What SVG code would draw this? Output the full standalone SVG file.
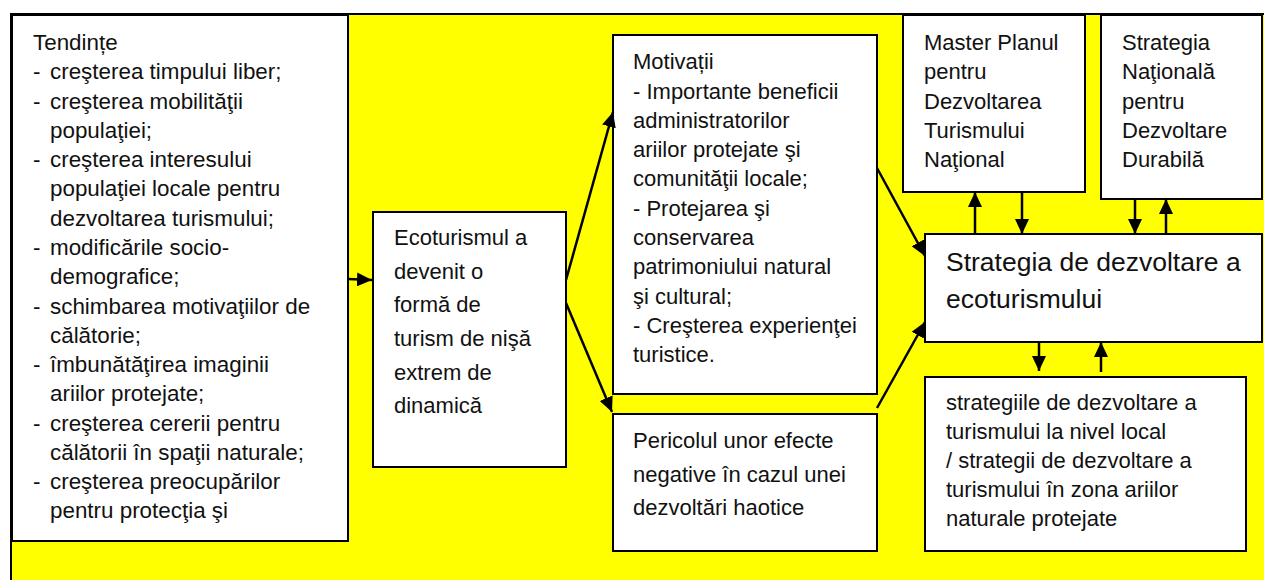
<svg xmlns="http://www.w3.org/2000/svg" width="1264" height="580" viewBox="0 0 1264 580">
<style>
.bx{fill:#ffffff;stroke:#000000;stroke-width:2}
.t{font-family:"Liberation Sans",Arial,sans-serif;font-size:22px;fill:#111111}
.tl{font-family:"Liberation Sans",Arial,sans-serif;font-size:22.4px;fill:#111111}
.tb{font-family:"Liberation Sans",Arial,sans-serif;font-size:26.5px;fill:#111111}
.c{stroke:#000000;stroke-width:2.5;fill:none;marker-end:url(#ah)}
</style>
<defs>
<marker id="ah" markerUnits="userSpaceOnUse" markerWidth="15" markerHeight="14" refX="15" refY="7" orient="auto">
<path d="M0,0 L15,7 L0,14 z" fill="#000000"/>
</marker>
</defs>
<rect x="11" y="14" width="1270" height="580" fill="#ffff00" stroke="#000000" stroke-width="2"/>

<g id="tendinte">
<rect class="bx" x="12" y="15" width="336" height="526"/>
<text class="tl" x="33" y="50">Tendințe</text>
<text class="tl"><tspan x="33" y="79">-</tspan><tspan x="50" y="79">creşterea timpului liber;</tspan></text>
<text class="tl"><tspan x="33" y="108.5">-</tspan><tspan x="50" y="108.5">creşterea mobilităţii</tspan></text>
<text class="tl" x="50" y="138">populaţiei;</text>
<text class="tl"><tspan x="33" y="167">-</tspan><tspan x="50" y="167">creşterea interesului</tspan></text>
<text class="tl" x="50" y="196">populaţiei locale pentru</text>
<text class="tl" x="50" y="225.5">dezvoltarea turismului;</text>
<text class="tl"><tspan x="33" y="255">-</tspan><tspan x="50" y="255">modificările socio-</tspan></text>
<text class="tl" x="50" y="284">demografice;</text>
<text class="tl"><tspan x="33" y="313.5">-</tspan><tspan x="50" y="313.5">schimbarea motivaţiilor de</tspan></text>
<text class="tl" x="50" y="343">călătorie;</text>
<text class="tl"><tspan x="33" y="372">-</tspan><tspan x="50" y="372">îmbunătăţirea imaginii</tspan></text>
<text class="tl" x="50" y="401">ariilor protejate;</text>
<text class="tl"><tspan x="33" y="430.5">-</tspan><tspan x="50" y="430.5">creşterea cererii pentru</tspan></text>
<text class="tl" x="50" y="460">călătorii în spaţii naturale;</text>
<text class="tl"><tspan x="33" y="489">-</tspan><tspan x="50" y="489">creşterea preocupărilor</tspan></text>
<text class="tl" x="50" y="518">pentru protecţia şi</text>
</g>

<g id="ecoturism">
<rect class="bx" x="373" y="212" width="193" height="255"/>
<text class="t" x="394" y="245">Ecoturismul a</text>
<text class="t" x="394" y="278.5">devenit o</text>
<text class="t" x="394" y="312">formă de</text>
<text class="t" x="394" y="346">turism de nişă</text>
<text class="t" x="394" y="380">extrem de</text>
<text class="t" x="394" y="413">dinamică</text>
</g>

<g id="motivatii">
<rect class="bx" x="613" y="35" width="264" height="359"/>
<text class="t" x="633" y="69">Motivații</text>
<text class="t" x="633" y="98.5">- Importante beneficii</text>
<text class="t" x="633" y="128">administratorilor</text>
<text class="t" x="633" y="157">ariilor protejate şi</text>
<text class="t" x="633" y="186">comunităţii locale;</text>
<text class="t" x="633" y="215.5">- Protejarea şi</text>
<text class="t" x="633" y="245">conservarea</text>
<text class="t" x="633" y="274">patrimoniului natural</text>
<text class="t" x="633" y="303.5">şi cultural;</text>
<text class="t" x="633" y="333">- Creşterea experienţei</text>
<text class="t" x="633" y="362">turistice.</text>
</g>

<g id="pericolul">
<rect class="bx" x="613" y="414" width="264" height="137"/>
<text class="t" x="633" y="448">Pericolul unor efecte</text>
<text class="t" x="633" y="482">negative în cazul unei</text>
<text class="t" x="633" y="515">dezvoltări haotice</text>
</g>

<g id="masterplan">
<rect class="bx" x="903" y="15" width="182" height="177"/>
<text class="t" x="924" y="50">Master Planul</text>
<text class="t" x="924" y="79">pentru</text>
<text class="t" x="924" y="108.5">Dezvoltarea</text>
<text class="t" x="924" y="138">Turismului</text>
<text class="t" x="924" y="167">Naţional</text>
</g>

<g id="strategia-nationala">
<rect class="bx" x="1101" y="15" width="161" height="184"/>
<text class="t" x="1122" y="50">Strategia</text>
<text class="t" x="1122" y="79">Naţională</text>
<text class="t" x="1122" y="108.5">pentru</text>
<text class="t" x="1122" y="138">Dezvoltare</text>
<text class="t" x="1122" y="167">Durabilă</text>
</g>

<g id="strategia-ecoturism">
<rect class="bx" x="925" y="234" width="337" height="108"/>
<text class="tb" x="946" y="271">Strategia de dezvoltare a</text>
<text class="tb" x="946" y="308">ecoturismului</text>
</g>

<g id="strategii-locale">
<rect class="bx" x="925" y="377" width="321" height="174"/>
<text class="t" x="946" y="410">strategiile de dezvoltare a</text>
<text class="t" x="946" y="439">turismului la nivel local</text>
<text class="t" x="946" y="468">/ strategii de dezvoltare a</text>
<text class="t" x="946" y="497">turismului în zona ariilor</text>
<text class="t" x="946" y="526">naturale protejate</text>
</g>

<g id="connectors">
<line class="c" x1="348" y1="279" x2="372" y2="280"/>
<line class="c" x1="566" y1="280" x2="613" y2="112"/>
<line class="c" x1="566" y1="303" x2="612" y2="412"/>
<line class="c" x1="877" y1="168" x2="925" y2="256"/>
<line class="c" x1="877" y1="408" x2="925" y2="322"/>
<line class="c" x1="975" y1="234" x2="975" y2="192"/>
<line class="c" x1="1022" y1="192" x2="1022" y2="234"/>
<line class="c" x1="1135" y1="199" x2="1135" y2="234"/>
<line class="c" x1="1166" y1="234" x2="1166" y2="199"/>
<line class="c" x1="1039" y1="342" x2="1039" y2="371"/>
<line class="c" x1="1101" y1="372" x2="1101" y2="342"/>
</g>
</svg>
